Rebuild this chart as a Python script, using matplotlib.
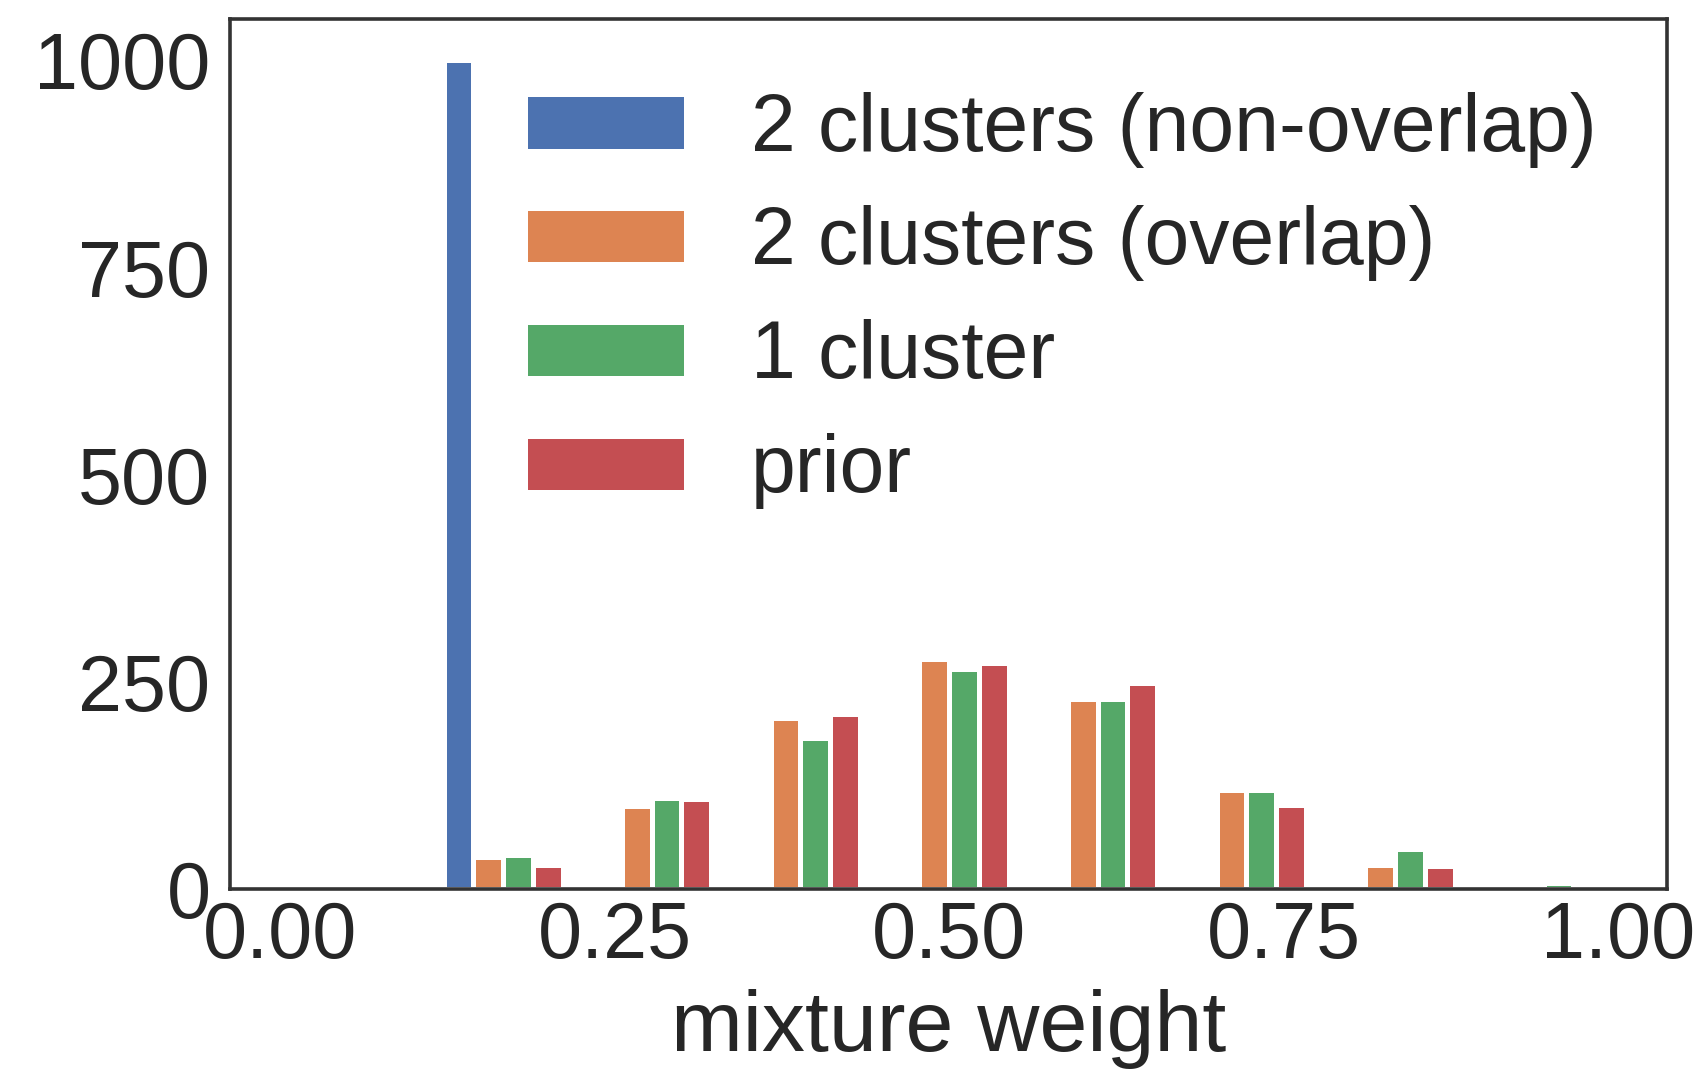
import numpy as np
import matplotlib
matplotlib.use('agg')
import matplotlib.pyplot as plt

plt.style.use('seaborn-v0_8-white')
plt.rcParams['font.family'] = ['Liberation Sans', 'DejaVu Sans']

# nine equal bins over [0, 1]
edges = np.linspace(0, 1, 10)

labels = ['2 clusters (non-overlap)', '2 clusters (overlap)', '1 cluster', 'prior']
colors = ['#4C72B0', '#DD8452', '#55A868', '#C44E52']

# counts per bin for each run (1000 samples each)
nonoverlap = [0, 1000, 0, 0, 0, 0, 0, 0, 0]
overlap = [0, 38, 100, 206, 277, 229, 119, 29, 0]
one_cluster = [0, 41, 110, 182, 265, 229, 119, 48, 7]
prior = [0, 29, 109, 211, 273, 249, 101, 28, 0]

centers = (edges[:-1] + edges[1:]) / 2
counts = [nonoverlap, overlap, one_cluster, prior]

fig = plt.figure(figsize=(17, 10.69), dpi=100)
ax = fig.add_axes([0.1353, 0.1684, 0.8453, 0.8138])

ax.hist([centers] * 4, bins=edges, weights=counts, color=colors, label=labels,
        edgecolor='white', linewidth=3.6)

ax.set_xlim(-0.0374, 1.0366)
ax.set_ylim(0, 1050)
ax.set_xticks([0, 0.25, 0.5, 0.75, 1.0])
ax.set_yticks([0, 250, 500, 750, 1000])
ax.tick_params(labelsize=57, colors='#262626', length=0)
ax.tick_params(axis='x', pad=8)
ax.tick_params(axis='y', pad=14)
ax.set_xlabel('mixture weight', fontsize=62, color='#262626', labelpad=10)
for s in ax.spines.values():
    s.set_linewidth(2.6)
    s.set_color('#333333')

ax.legend(fontsize=58, frameon=False, loc='upper left',
          bbox_to_anchor=(0.155, 1.0), labelspacing=0.47)

fig.savefig('out.png')
